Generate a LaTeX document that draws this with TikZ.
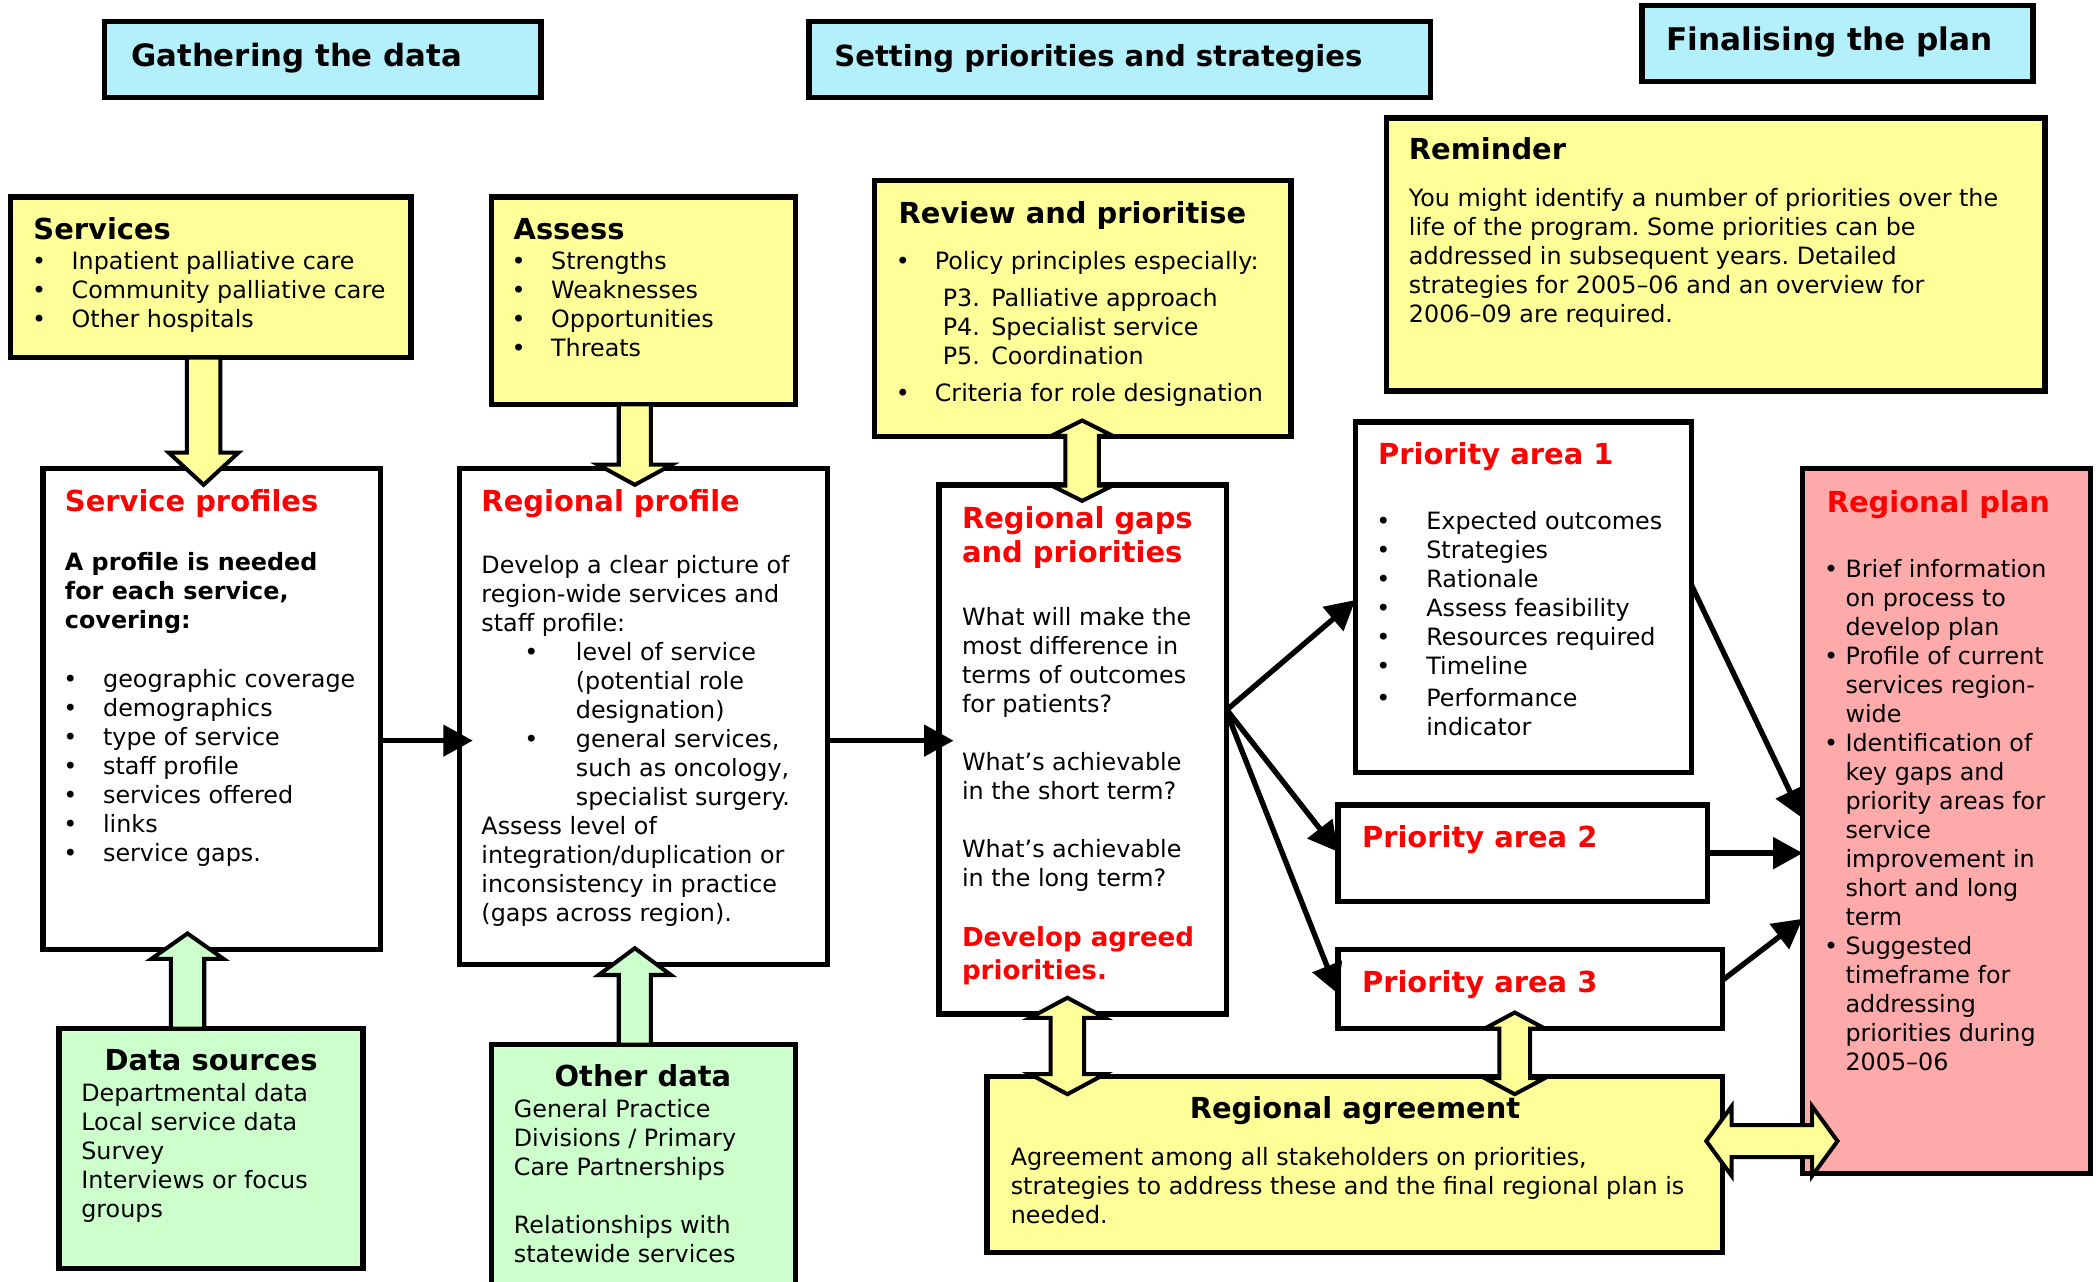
\documentclass[tikz,border=0pt]{standalone}
\usepackage{fontspec}
\setmainfont{DejaVu Sans}
\usetikzlibrary{arrows.meta,calc}
\frenchspacing

\definecolor{hdrcyan}{RGB}{180,240,252}
\definecolor{boxyel}{RGB}{255,255,153}
\definecolor{boxgrn}{RGB}{204,255,204}
\definecolor{boxpink}{RGB}{255,170,170}
\definecolor{ttlred}{RGB}{255,0,0}

\newcommand\bodyf{\fontsize{17.8}{21.65}\selectfont\frenchspacing}
\newcommand\ttlf{\fontsize{21.6}{25.2}\selectfont\bfseries}
\newcommand\hdrf{\fontsize{23}{27}\selectfont\bfseries}
\newcommand\ml[1]{\begin{tabular}[t]{@{}l@{}}#1\end{tabular}}
\newcommand\bul[1]{\makebox[#1][l]{\textbullet}}
\newcommand\ind[1]{\hspace*{#1}}

\newcommand\boxnode[6]{\node[boxst,fill=#2,minimum width={(#5-#3)*1pt},minimum height={(#6-#4)*1pt}] (#1) at (#3,#4) {};}

\newcommand\downblk[6]{\draw[blk,fill=#1] let \p1=#2, \p2=#3 in
  (\x2-#4,\y1) -- (\x2-#4,\y2+#6) -- (\x2-#5,\y2+#6) -- (\x2,\y2) -- (\x2+#5,\y2+#6) -- (\x2+#4,\y2+#6) -- (\x2+#4,\y1) -- cycle;}
\newcommand\upblk[6]{\draw[blk,fill=#1] let \p1=#2, \p2=#3 in
  (\x2-#4,\y1) -- (\x2-#4,\y2-#6) -- (\x2-#5,\y2-#6) -- (\x2,\y2) -- (\x2+#5,\y2-#6) -- (\x2+#4,\y2-#6) -- (\x2+#4,\y1) -- cycle;}
\newcommand\vdbl[6]{\draw[blk,fill=#1] let \p1=#2, \p2=#3 in
  (\x1,\y1) -- (\x1+#5,\y1-#6) -- (\x1+#4,\y1-#6) -- (\x1+#4,\y2+#6) -- (\x1+#5,\y2+#6) -- (\x1,\y2) -- (\x1-#5,\y2+#6) -- (\x1-#4,\y2+#6) -- (\x1-#4,\y1-#6) -- (\x1-#5,\y1-#6) -- cycle;}
\newcommand\hdbl[6]{\draw[blk,fill=#1] let \p1=#2, \p2=#3 in
  (\x1,\y1) -- (\x1+#6,\y1+#5) -- (\x1+#6,\y1+#4) -- (\x2-#6,\y1+#4) -- (\x2-#6,\y1+#5) -- (\x2,\y1) -- (\x2-#6,\y1-#5) -- (\x2-#6,\y1-#4) -- (\x1+#6,\y1-#4) -- (\x1+#6,\y1-#5) -- cycle;}

\begin{document}
\begin{tikzpicture}[x=1pt,y=-1pt,
  boxst/.style={draw,line width=4pt,inner sep=0pt,outer sep=0pt,anchor=north west},
  txt/.style={anchor=base west,inner sep=0pt,outer sep=0pt,font=\bodyf},
  ttl/.style={anchor=base west,inner sep=0pt,outer sep=0pt,font=\ttlf},
  rttl/.style={ttl,text=ttlred},
  hdr/.style={anchor=base west,inner sep=0pt,outer sep=0pt,font=\hdrf},
  conn/.style={line width=4pt,-{Triangle[length=22pt,width=23pt]}},
  blk/.style={draw,line width=3pt,line join=miter}]
\useasboundingbox (0,0) rectangle (1568,957);
\fill[white] (0,0) rectangle (1568,957);

% boxes
\boxnode{hdr1}{hdrcyan}{78}{16}{404}{73}
\boxnode{hdr2}{hdrcyan}{604}{16}{1068}{73}
\boxnode{hdr3}{hdrcyan}{1226}{4}{1518}{61}
\boxnode{services}{boxyel}{8}{147}{307}{267}
\boxnode{assess}{boxyel}{367}{147}{594}{302}
\boxnode{review}{boxyel}{653}{135}{964}{326}
\boxnode{reminder}{boxyel}{1035}{88}{1527}{292}
\boxnode{sprof}{white}{32}{350}{284}{709}
\boxnode{rprof}{white}{343}{350}{618}{720}
\boxnode{gaps}{white}{701}{362}{916}{757}
\boxnode{prio1}{white}{1012}{315}{1263}{577}
\boxnode{prio2}{white}{999}{601}{1275}{673}
\boxnode{prio3}{white}{999}{709}{1286}{768}
\boxnode{plan}{boxpink}{1346}{350}{1561}{876}
\boxnode{dsrc}{boxgrn}{44}{768}{271}{947}
\boxnode{odata}{boxgrn}{367}{780}{594}{968}
\boxnode{agree}{boxyel}{737}{804}{1286}{935}

% headers
\node[hdr] (h1t) at (98,50) {Gathering the data};
\node[hdr,font=\fontsize{21.7}{26}\selectfont\bfseries] (h2t) at (623,50) {Setting priorities and strategies};
\node[hdr,font=\fontsize{23.3}{27}\selectfont\bfseries] (h3t) at (1244,38) {Finalising the plan};

% services / assess / review / reminder
\node[ttl] (servt) at (25,179) {Services};
\node[txt] (servl) at (24,201) {\ml{\bul{29.5pt}Inpatient palliative care\\ \bul{29.5pt}Community palliative care\\ \bul{29.5pt}Other hospitals}};
\node[ttl] (asst) at (383.5,179) {Assess};
\node[txt] (assl) at (382,201) {\ml{\bul{29.5pt}Strengths\\ \bul{29.5pt}Weaknesses\\ \bul{29.5pt}Opportunities\\ \bul{29.5pt}Threats}};
\node[ttl] (revt) at (671,167) {Review and prioritise};
\node[txt] (revl) at (669,201) {\ml{\bul{29pt}Policy principles especially:\\[6.35pt]
  \ind{35pt}P3.\hspace{8.5pt}Palliative approach\\
  \ind{35pt}P4.\hspace{8.5pt}Specialist service\\
  \ind{35pt}P5.\hspace{8.5pt}Coordination\\[5.8pt]
  \bul{29pt}Criteria for role designation}};
\node[ttl] (remt) at (1052,119) {Reminder};
\node[txt] (reml) at (1052,154) {\ml{You might identify a number of priorities over the\\
  life of the program. Some priorities can be\\
  addressed in subsequent years. Detailed\\
  strategies for 2005–06 and an overview for\\
  2006–09 are required.}};

% service profiles
\node[rttl] (sproft) at (48.5,382) {Service profiles};
\node[txt,font=\bodyf\bfseries] (sprofb) at (48.5,426) {\ml{A profile is needed\\ for each service,\\ covering:}};
\node[txt] (sprofl) at (47.3,513) {\ml{\bul{29.7pt}geographic coverage\\ \bul{29.7pt}demographics\\ \bul{29.7pt}type of service\\ \bul{29.7pt}staff profile\\ \bul{29.7pt}services offered\\ \bul{29.7pt}links\\ \bul{29.7pt}service gaps.}};

% regional profile
\node[rttl] (rproft) at (359.5,382) {Regional profile};
\node[txt] (rprofl) at (359.5,428) {\ml{Develop a clear picture of\\
  region-wide services and\\
  staff profile:\\
  \ind{32pt}\bul{38.5pt}level of service\\
  \ind{70.5pt}(potential role\\
  \ind{70.5pt}designation)\\
  \ind{32pt}\bul{38.5pt}general services,\\
  \ind{70.5pt}such as oncology,\\
  \ind{70.5pt}specialist surgery.\\
  Assess level of\\
  integration/duplication or\\
  inconsistency in practice\\
  (gaps across region).}};

% regional gaps
\node[rttl] (gapst) at (718.3,394.8) {\ml{Regional gaps\\ and priorities}};
\node[txt] (gapsl) at (718.3,467.3) {\ml{What will make the\\ most difference in\\ terms of outcomes\\ for patients?\\ \\ What’s achievable\\ in the short term?\\ \\ What’s achievable\\ in the long term?}};
\node[rttl,font=\fontsize{19.5}{24}\selectfont\bfseries] (gapsr) at (718.3,707) {\ml{Develop agreed\\ priorities.}};

% priority areas
\node[rttl] (p1t) at (1029,346.5) {Priority area 1};
\node[txt] (p1l) at (1027.7,395.7) {\ml{\bul{37.3pt}Expected outcomes\\ \bul{37.3pt}Strategies\\ \bul{37.3pt}Rationale\\ \bul{37.3pt}Assess feasibility\\ \bul{37.3pt}Resources required\\ \bul{37.3pt}Timeline\\[2pt] \bul{37.3pt}Performance\\ \ind{37.3pt}indicator}};
\node[rttl] (p2t) at (1017,632.6) {Priority area 2};
\node[rttl] (p3t) at (1017,740.7) {Priority area 3};

% regional plan
\node[rttl] (plant) at (1364,382.3) {Regional plan};
\node[txt] (planl) at (1362,431) {\ml{\bul{16pt}Brief information\\ \ind{16pt}on process to\\ \ind{16pt}develop plan\\
  \bul{16pt}Profile of current\\ \ind{16pt}services region-\\ \ind{16pt}wide\\
  \bul{16pt}Identification of\\ \ind{16pt}key gaps and\\ \ind{16pt}priority areas for\\ \ind{16pt}service\\ \ind{16pt}improvement in\\ \ind{16pt}short and long\\ \ind{16pt}term\\
  \bul{16pt}Suggested\\ \ind{16pt}timeframe for\\ \ind{16pt}addressing\\ \ind{16pt}priorities during\\ \ind{16pt}2005–06}};

% data sources / other data
\node[ttl,anchor=base] (dsrct) at (157.6,799.6) {Data sources};
\node[txt] (dsrcl) at (60.7,822.2) {\ml{Departmental data\\ Local service data\\ Survey\\ Interviews or focus\\ groups}};
\node[ttl,anchor=base] (odatat) at (480,811.6) {Other data};
\node[txt] (odatal) at (383.7,834.5) {\ml{General Practice\\ Divisions / Primary\\ Care Partnerships\\ \\ Relationships with\\ statewide services}};

% regional agreement
\node[ttl,anchor=base] (agreet) at (1011.7,835.2) {Regional agreement};
\node[txt] (agreel) at (754.7,870) {\ml{Agreement among all stakeholders on priorities,\\ strategies to address these and the final regional plan is\\ needed.}};

% block arrows
\downblk{boxyel}{(152,0 |- services.south)}{($(152,0 |- sprof.north)+(0,12)$)}{12.5pt}{26pt}{24pt}
\downblk{boxyel}{(474,0 |- assess.south)}{($(474,0 |- rprof.north)+(0,12)$)}{12pt}{27.5pt}{15pt}
\upblk{boxgrn}{(140,0 |- dsrc.north)}{($(140,0 |- sprof.south)+(0,-12)$)}{12.5pt}{27pt}{19pt}
\upblk{boxgrn}{(474,0 |- odata.north)}{($(474,0 |- rprof.south)+(0,-12)$)}{12pt}{27pt}{20pt}
\vdbl{boxyel}{($(808,0 |- review.south)+(0,-12)$)}{($(808,0 |- gaps.north)+(0,12)$)}{12.5pt}{23pt}{11.5pt}
\vdbl{boxyel}{($(797,0 |- gaps.south)+(0,-12)$)}{($(797,0 |- agree.north)+(0,13)$)}{12.5pt}{28pt}{15pt}
\vdbl{boxyel}{($(1131,0 |- prio3.south)+(0,-12)$)}{($(1131,0 |- agree.north)+(0,13)$)}{11.5pt}{22.5pt}{12pt}
\hdbl{boxyel}{($(agree.east |- 0,852)+(-12,0)$)}{($(plan.west |- 0,852)+(26,0)$)}{12pt}{26pt}{19pt}

% connectors
\draw[conn] (sprof.east |- 0,553) -- ($(rprof.west |- 0,553)+(10,0)$);
\draw[conn] (rprof.east |- 0,553) -- ($(gaps.west |- 0,553)+(11,0)$);
\draw[conn] (gaps.east |- 0,530) -- (prio1.west |- 0,448);
\draw[conn] (gaps.east |- 0,530) -- (prio2.west |- 0,636);
\draw[conn] (gaps.east |- 0,532) -- (prio3.west |- 0,742);
\draw[conn] (prio1.east |- 0,437) -- (plan.west |- 0,611);
\draw[conn] (prio2.east |- 0,637) -- (plan.west |- 0,637);
\draw[conn] (prio3.east |- 0,732) -- (plan.west |- 0,686);
\end{tikzpicture}
\end{document}
